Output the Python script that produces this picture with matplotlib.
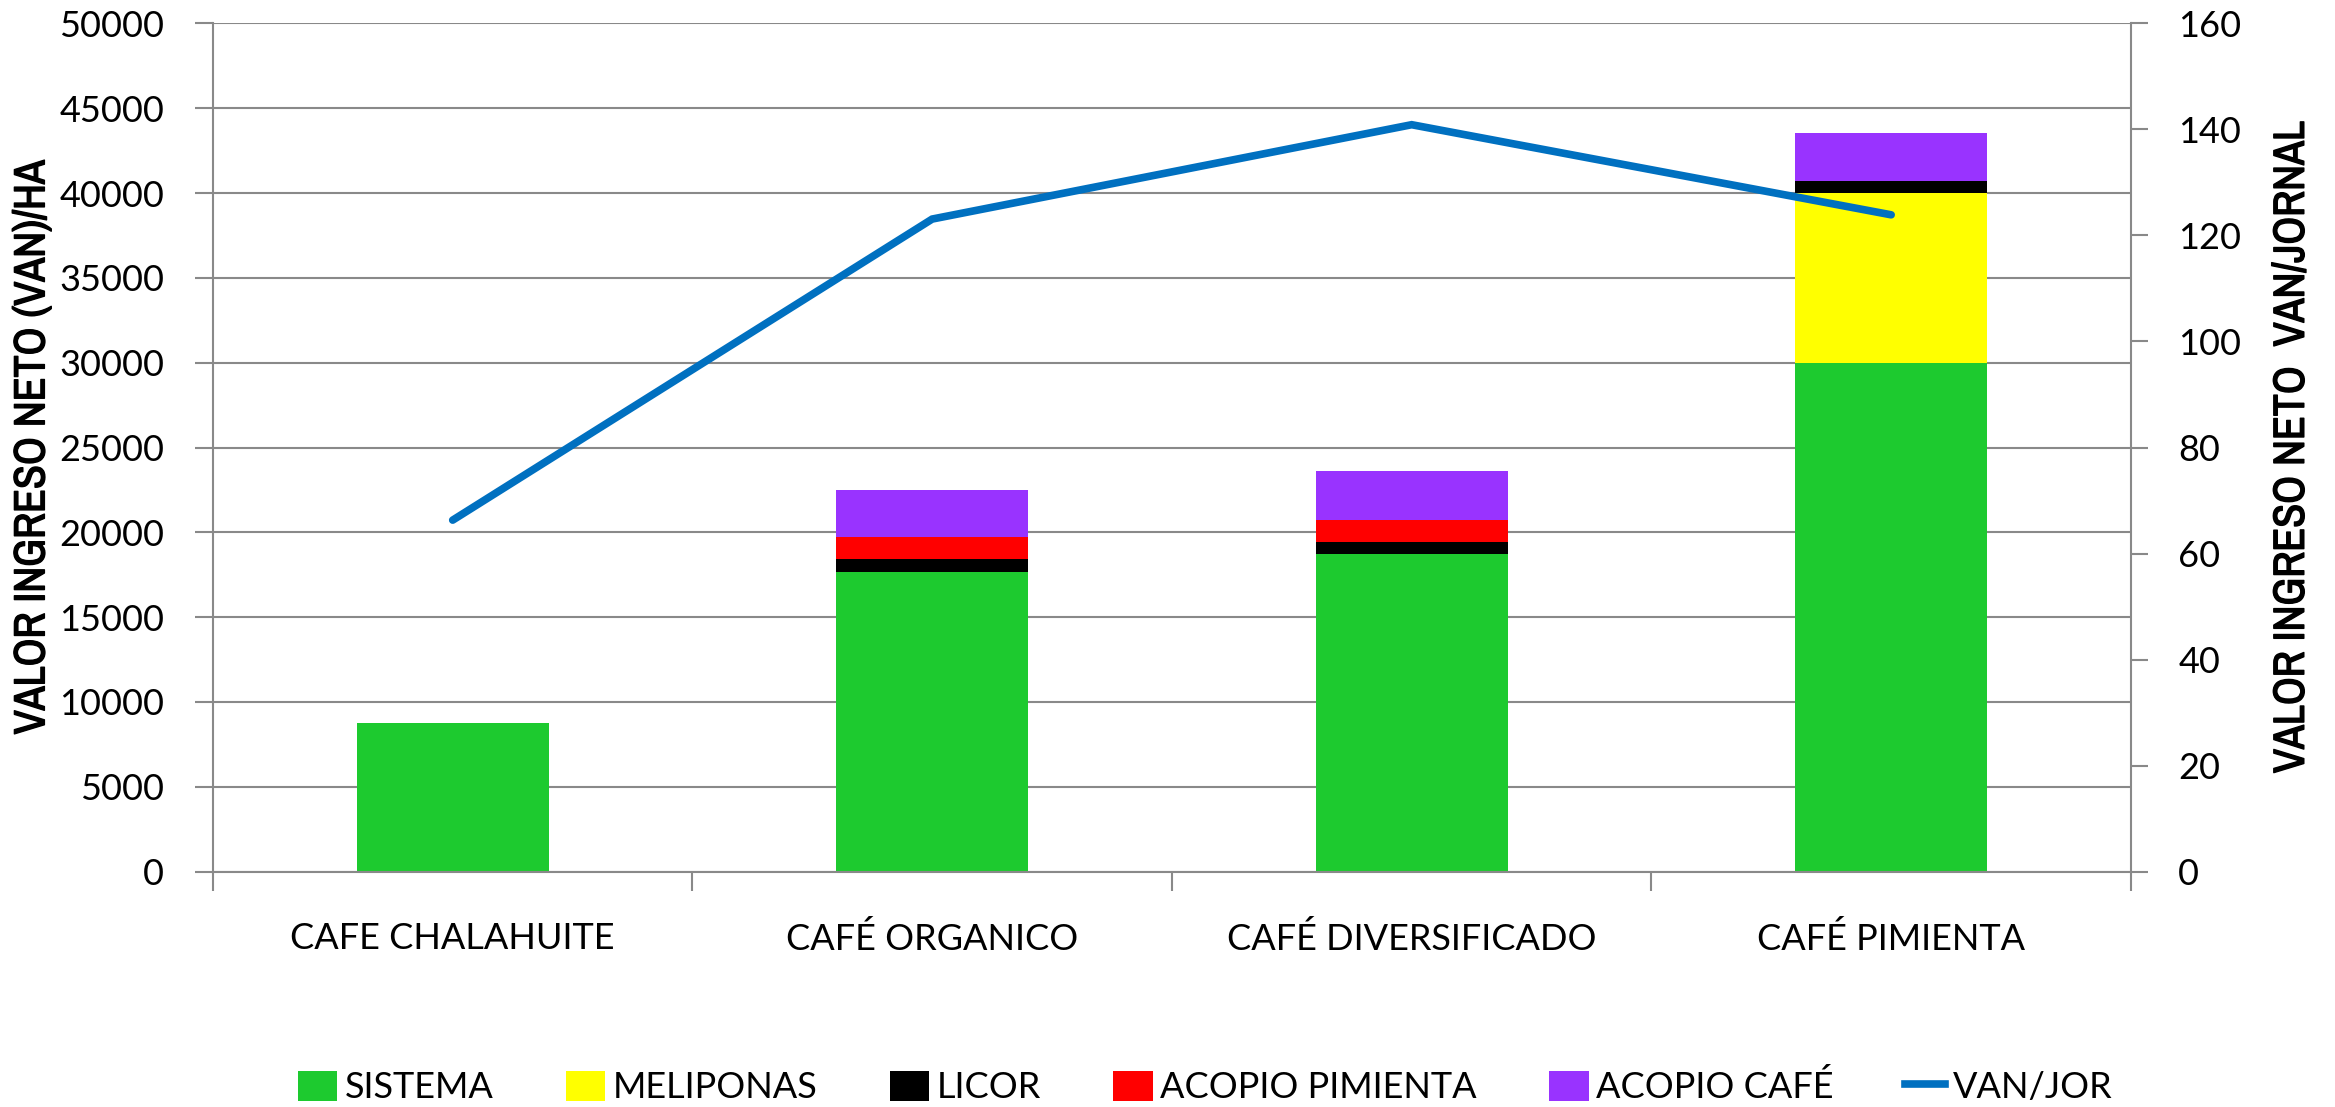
import numpy as np
import matplotlib
matplotlib.use('Agg')
import matplotlib.pyplot as plt
import matplotlib.patheffects as pe
from matplotlib import font_manager
from matplotlib.patches import Patch
from matplotlib.lines import Line2D

categories = ['CAFE CHALAHUITE', 'CAFÉ ORGANICO', 'CAFÉ DIVERSIFICADO', 'CAFÉ PIMIENTA']
sistema = [8780, 17680, 18740, 30000]
meliponas = [0, 0, 0, 10000]
licor = [0, 730, 710, 690]
acopio_pimienta = [0, 1300, 1300, 0]
acopio_cafe = [0, 2790, 2850, 2850]
van_jor = [66.3, 123.1, 140.9, 123.9]

series_names = ['SISTEMA', 'MELIPONAS', 'LICOR', 'ACOPIO PIMIENTA', 'ACOPIO CAFÉ']
series_colors = ['#1DCA2F', '#FFFF00', '#000000', '#FF0000', '#9933FF']
left_ticks = list(range(0, 50001, 5000))
right_ticks = list(range(0, 161, 20))

fonts = font_manager.fontManager.ttflist
installed = {f.name for f in fonts}
body_font = 'Lato' if 'Lato' in installed else 'DejaVu Sans'

# narrow face for the axis titles, thickened with a stroke to look bold
bold_fx = [pe.withStroke(linewidth=1.0, foreground='black')]
label_kw = dict(family=body_font, fontsize=23, fontweight='bold')
narrow = [f.name for f in fonts if 'Narrow' in f.name]
if narrow:
    label_kw = dict(family=narrow[0], fontsize=31.5, fontweight='bold', path_effects=bold_fx)

plt.rcParams['font.family'] = [body_font, 'DejaVu Sans']

grey = '#898989'
fig = plt.figure(figsize=(23.35, 11.07), dpi=100)
ax = fig.add_axes([0.0912, 0.2127, 0.8214, 0.7661])

x = np.arange(len(categories))
bottom = np.zeros(len(categories))
handles = []
for vals, name, col in zip([sistema, meliponas, licor, acopio_pimienta, acopio_cafe],
                           series_names, series_colors):
    ax.bar(x, vals, 0.4, bottom=bottom, color=col, zorder=2)
    bottom += np.array(vals)
    handles.append(Patch(facecolor=col, label=name))

ax.set_xlim(-0.5, len(categories) - 0.5)
ax.set_ylim(0, 50000)
ax.set_yticks(left_ticks)
ax.set_yticklabels([str(t) for t in left_ticks])
ax.yaxis.grid(True, color=grey, linewidth=1.5, zorder=0)
ax.set_axisbelow(True)
ax.set_xticks(np.arange(-0.5, len(categories)), labels=[''] * (len(categories) + 1))
ax.set_xticks(x, labels=categories, minor=True)
ax.tick_params(axis='x', which='major', length=14, width=1.5, color=grey)
ax.tick_params(axis='x', which='minor', length=0, pad=36, labelsize=26)
ax.tick_params(axis='y', length=13, width=1.5, color=grey, pad=22, labelsize=26)
for s in ['top', 'right']:
    ax.spines[s].set_visible(False)
for s in ['left', 'bottom']:
    ax.spines[s].set_color(grey)
    ax.spines[s].set_linewidth(1.5)
ax.set_ylabel('VALOR INGRESO NETO (VAN)/HA', labelpad=5, **label_kw)

ax2 = ax.twinx()
ax2.plot(x, van_jor, color='#0070C0', linewidth=5.5, solid_capstyle='round',
         solid_joinstyle='miter', zorder=3)
ax2.set_ylim(0, 160)
ax2.set_yticks(right_ticks)
ax2.tick_params(axis='y', length=12, width=1.5, color=grey, pad=22, labelsize=26)
for s in ['top', 'left', 'bottom']:
    ax2.spines[s].set_visible(False)
ax2.spines['right'].set_color(grey)
ax2.spines['right'].set_linewidth(1.5)
ax2.set_ylabel('VALOR INGRESO NETO  VAN/JORNAL', labelpad=22, **label_kw)
handles.append(Line2D([0], [0], color='#0070C0', linewidth=5.5, label='VAN/JOR'))

fig.legend(handles=handles, loc='center', bbox_to_anchor=(0.516, 0.018), ncol=6,
           frameon=False, fontsize=26, handlelength=1.1, handleheight=0.9,
           handletextpad=0.2, columnspacing=2.0)

fig.savefig('out.png', dpi=100)
